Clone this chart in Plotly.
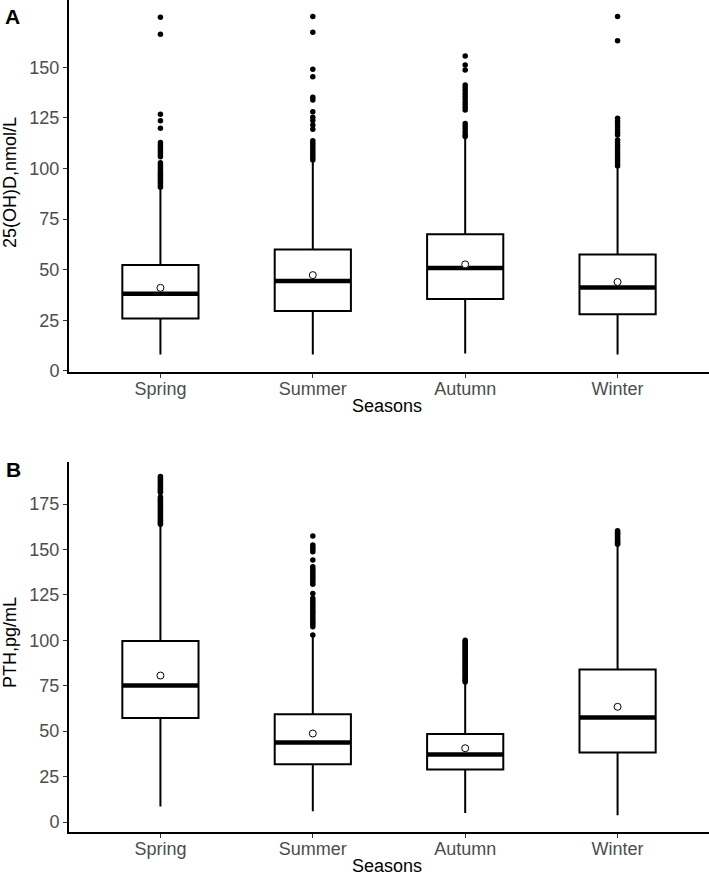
import plotly.graph_objects as go

seasons = ["Spring", "Summer", "Autumn", "Winter"]

# Panel A: 25(OH)D, nmol/L
vitd_q1 = [25.9, 29.5, 35.5, 27.9]
vitd_median = [38.1, 44.4, 50.8, 41.2]
vitd_q3 = [52.3, 60.0, 67.5, 57.5]
vitd_low = [8.1, 8.1, 8.6, 8.1]
vitd_high = [90.2, 103.7, 115.2, 100.9]
vitd_mean = [41.0, 47.3, 52.6, 43.9]
vitd_out_spring = [174.8, 166.4, 126.8, 123.6, 119.9, 112.8, 111.8, 110.8, 109.8, 108.8,
                   107.8, 106.8, 105.8, 102.9, 101.7, 100.7, 99.7, 98.7, 97.7, 96.7,
                   95.7, 94.7, 93.7, 92.7, 91.7, 90.7]
vitd_out_summer = [175.1, 167.3, 149.1, 145.4, 135.2, 133.9, 128.1, 125.3, 123.7, 121.5,
                   119.4, 113.7, 112.5, 111.3, 110.1, 108.9, 107.7, 106.5, 105.3, 104.2]
vitd_out_autumn = [155.6, 151.2, 148.7, 141.3, 139.9, 138.5, 137.1, 135.7, 134.3, 132.9,
                   131.5, 130.2, 128.9, 122.3, 120.9, 119.5, 118.1, 116.7, 115.8]
vitd_out_winter = [175.1, 163.2, 124.8, 123.4, 122.0, 120.6, 119.2, 117.8, 116.6, 114.1,
                   112.8, 111.5, 110.2, 108.9, 107.6, 106.3, 105.0, 103.7, 102.4, 101.2]

# Panel B: PTH, pg/mL
pth_q1 = [57.3, 31.8, 28.9, 38.2]
pth_median = [75.1, 43.7, 37.1, 57.5]
pth_q3 = [99.6, 59.3, 48.5, 84.0]
pth_low = [8.6, 5.9, 5.0, 3.7]
pth_high = [163.5, 102.3, 76.6, 152.4]
pth_mean = [80.6, 48.7, 40.6, 63.4]
pth_out_spring = [190.1, 189.3, 188.5, 187.7, 186.9, 186.1, 185.3, 184.5, 183.7, 182.9,
                  182.1, 181.3, 178.9, 178.1, 177.3, 176.5, 175.7, 174.9, 174.1, 173.3,
                  172.5, 171.7, 170.9, 170.1, 169.3, 168.5, 167.7, 166.9, 166.1, 165.3,
                  164.5, 163.9]
pth_out_summer = [157.4, 152.4, 151.2, 150.0, 148.8, 144.2, 140.5, 139.3, 138.1, 136.9,
                  135.7, 134.5, 133.3, 132.1, 130.9, 125.8, 123.1, 121.9, 120.7, 119.5,
                  118.3, 117.1, 115.9, 114.7, 113.5, 112.3, 111.1, 109.9, 108.7, 107.5,
                  102.9]
pth_out_autumn = [100.1, 99.3, 98.5, 97.7, 96.9, 96.1, 95.3, 94.5, 93.7, 92.9, 92.1, 91.3,
                  90.5, 89.7, 88.9, 88.1, 87.3, 86.5, 85.7, 84.9, 84.1, 83.3, 82.5, 81.7,
                  80.9, 80.1, 79.3, 78.5, 77.7, 77.0]
pth_out_winter = [160.3, 159.6, 158.9, 158.2, 157.5, 156.8, 156.1, 155.4, 154.7, 154.0,
                  153.3, 152.8]

panels = [
    dict(q1=vitd_q1, med=vitd_median, q3=vitd_q3, low=vitd_low, high=vitd_high,
         mean=vitd_mean, outs=[vitd_out_spring, vitd_out_summer, vitd_out_autumn, vitd_out_winter],
         xa="x", ya="y"),
    dict(q1=pth_q1, med=pth_median, q3=pth_q3, low=pth_low, high=pth_high,
         mean=pth_mean, outs=[pth_out_spring, pth_out_summer, pth_out_autumn, pth_out_winter],
         xa="x2", ya="y2"),
]

BOXW = 0.5
fig = go.Figure()
for p in panels:
    for i, s in enumerate(seasons):
        fig.add_trace(go.Box(
            x=[i], q1=[p["q1"][i]], median=[p["med"][i]], q3=[p["q3"][i]],
            lowerfence=[p["low"][i]], upperfence=[p["high"][i]],
            width=BOXW, whiskerwidth=0, boxpoints=False,
            fillcolor="white", line=dict(color="black", width=2),
            xaxis=p["xa"], yaxis=p["ya"], showlegend=False, hoverinfo="skip"))
        # thick median line
        fig.add_trace(go.Scatter(
            x=[i - BOXW / 2, i + BOXW / 2], y=[p["med"][i], p["med"][i]],
            mode="lines", line=dict(color="black", width=4.5),
            xaxis=p["xa"], yaxis=p["ya"], showlegend=False, hoverinfo="skip"))
        # outliers
        outs = p["outs"][i]
        fig.add_trace(go.Scatter(
            x=[i] * len(outs), y=outs, mode="markers",
            marker=dict(color="black", size=5.5),
            xaxis=p["xa"], yaxis=p["ya"], showlegend=False, hoverinfo="skip"))
    # means
    fig.add_trace(go.Scatter(
        x=list(range(len(seasons))), y=p["mean"], mode="markers",
        marker=dict(symbol="circle", color="white", size=7, line=dict(color="black", width=1)),
        xaxis=p["xa"], yaxis=p["ya"], showlegend=False, hoverinfo="skip"))

H_PLOT = 832.0
def py(Y):
    return (H_PLOT - Y) / H_PLOT
def px(X):
    return (X - 69) / 640.0

FAM = "Liberation Sans, Arial, sans-serif"
tickfont = dict(family=FAM, size=18, color="#4d4d4d")
common_x = dict(tickmode="array", tickvals=[0, 1, 2, 3], ticktext=seasons,
                range=[-0.6, 3.6], showline=True, linecolor="black", linewidth=2,
                ticks="outside", ticklen=4, tickcolor="#333333", tickwidth=1,
                showgrid=False, zeroline=False, tickfont=tickfont,
                ticklabelstandoff=-5)
common_y = dict(showline=True, linecolor="black", linewidth=2,
                ticks="outside", ticklen=4, tickcolor="#333333", tickwidth=1,
                showgrid=False, zeroline=False, tickfont=tickfont,
                tickmode="array", tickvals=[0, 25, 50, 75, 100, 125, 150, 175])

fig.update_layout(
    width=709, height=876,
    margin=dict(l=69, r=0, t=0, b=44),
    paper_bgcolor="white", plot_bgcolor="white",
    xaxis=dict(common_x, anchor="y", domain=[0, 1]),
    yaxis=dict(common_y, anchor="x", domain=[py(372), 1.0], range=[-0.6, 183.3],
               tickvals=[0, 25, 50, 75, 100, 125, 150]),
    xaxis2=dict(common_x, anchor="y2", domain=[0, 1]),
    yaxis2=dict(common_y, anchor="x2", domain=[0, py(461.7)], range=[-5.5, 198.3]),
)

afont = dict(family=FAM, size=18, color="black")
annotations = [
    dict(text="<b>A</b>", x=px(12.5), y=py(17), font=dict(family=FAM, size=21, color="black")),
    dict(text="<b>B</b>", x=px(13), y=py(469.5), font=dict(family=FAM, size=21, color="black")),
    dict(text="25(OH)D,nmol/L", x=px(10), y=py(183), textangle=-90, font=afont),
    dict(text="PTH,pg/mL", x=px(10), y=py(643), textangle=-90, font=afont),
    dict(text="Seasons", x=px(387), y=py(406), font=afont),
    dict(text="Seasons", x=px(387), y=py(866), font=afont),
]
for a in annotations:
    a.update(xref="paper", yref="paper", showarrow=False, xanchor="center", yanchor="middle")
fig.update_layout(annotations=annotations)

fig.write_html("out.html", config={"displayModeBar": False},
               post_script="document.body.style.margin='0px';document.body.style.overflow='hidden';")
